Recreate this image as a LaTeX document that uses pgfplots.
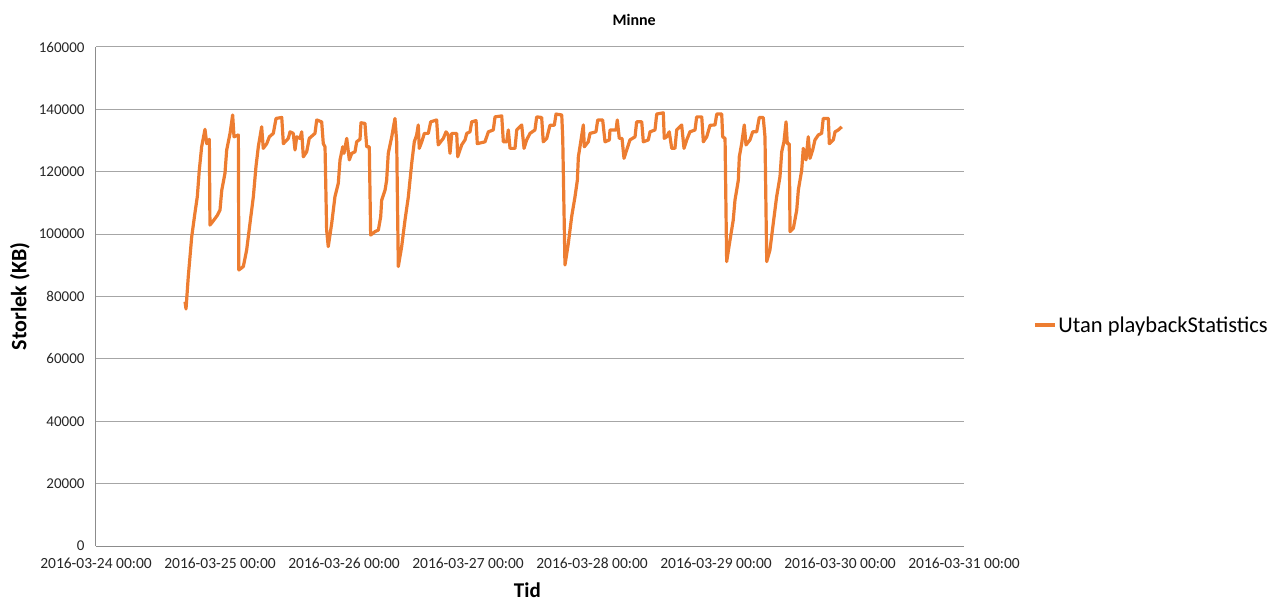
\documentclass[border=0pt]{standalone}
\usepackage{fontspec}
\setmainfont{Carlito}
\usepackage{pgfplots}
\pgfplotsset{compat=1.18}
\definecolor{lineor}{HTML}{ED7D31}
\definecolor{gridg}{HTML}{A6A6A6}
\definecolor{axg}{HTML}{8C8C8C}
\begin{document}
\begin{tikzpicture}[x=1pt,y=1pt]
\useasboundingbox (-96,-54) rectangle (1188,546);
\begin{axis}[at={(0,0)},anchor=south west,scale only axis,
  width=868pt,height=499pt,
  xmin=0,xmax=7,ymin=0,ymax=160000,
  axis lines*=left,
  axis line style={axg,line width=1pt},
  xtick={0,1,2,3,4,5,6,7},
  xticklabels={2016-03-24 00:00,2016-03-25 00:00,2016-03-26 00:00,2016-03-27 00:00,2016-03-28 00:00,2016-03-29 00:00,2016-03-30 00:00,2016-03-31 00:00},
  ytick={0,20000,40000,60000,80000,100000,120000,140000,160000},
  scaled y ticks=false,
  /pgf/number format/assume math mode=true,
  /pgf/number format/fixed,
  /pgf/number format/1000 sep={},
  major tick length=0pt,
  ymajorgrids,
  grid style={gridg,line width=1pt},
  tick label style={text=black!85},
  yticklabel style={font=\fontsize{15}{17}\selectfont,xshift=-8pt},
  xticklabel style={font=\fontsize{15.5}{17}\selectfont,yshift=-8pt},
  title={Minne},
  title style={font=\bfseries\fontsize{16}{18}\selectfont,at={(axis description cs:0.62,1)},anchor=center,yshift=21pt},
  ylabel={Storlek (KB)},
  ylabel style={font=\bfseries\fontsize{22}{24}\selectfont,at={(axis description cs:0,0.5)},anchor=center,yshift=76pt},
  xlabel={Tid},
  xlabel style={font=\bfseries\fontsize{21}{23}\selectfont,at={(axis description cs:0.497,0)},anchor=center,yshift=-44pt},
  legend style={at={(axis description cs:1.0795,0.4429)},anchor=west,draw=none,fill=none,font=\fontsize{22.5}{25}\selectfont,inner sep=0pt},
  legend image code/.code={\draw[#1] (0pt,0pt) -- (20pt,0pt);},
  clip=false,
]
\addplot[lineor,line width=3.2pt,line join=round] coordinates {
(0.718,78300) (0.726,76000) (0.744,86300) (0.772,99200) (0.798,106800) (0.817,112000)
(0.833,120500) (0.852,128000) (0.879,133600) (0.893,129000) (0.914,130400) (0.919,102900)
(0.941,104000) (0.960,105000) (0.978,106000) (1.000,107700) (1.014,114000) (1.040,119500)
(1.054,127000) (1.081,132300) (1.102,138200) (1.113,131200) (1.148,131800) (1.152,88500)
(1.188,89600) (1.215,94900) (1.242,103500) (1.269,112000) (1.290,121600) (1.309,128000)
(1.336,134400) (1.349,127500) (1.377,129000) (1.398,131200) (1.430,132300) (1.452,137100)
(1.498,137400) (1.511,129000) (1.551,130700) (1.565,132800) (1.591,132300) (1.605,127000)
(1.619,131200) (1.645,130700) (1.659,132800) (1.672,124800) (1.699,126400) (1.720,130700)
(1.766,132300) (1.780,136600) (1.820,136000) (1.833,129000) (1.847,128000) (1.860,101300)
(1.873,96000) (1.901,103500) (1.927,112000) (1.954,116300) (1.968,123800) (1.990,128000)
(2.000,125900) (2.022,130700) (2.043,123800) (2.062,125900) (2.089,126400) (2.102,129600)
(2.129,130400) (2.137,135700) (2.169,135500) (2.183,128000) (2.204,128000) (2.215,99700)
(2.250,100800) (2.277,101300) (2.296,105600) (2.304,110900) (2.331,114100) (2.344,117300)
(2.357,125900) (2.385,131200) (2.411,137100) (2.425,129600) (2.438,89600) (2.465,96000)
(2.492,104500) (2.519,112000) (2.546,122700) (2.567,129600) (2.586,131800) (2.599,135000)
(2.607,127500) (2.627,129600) (2.648,132300) (2.680,132300) (2.699,136000) (2.747,136600)
(2.760,128600) (2.801,130700) (2.823,132800) (2.841,131800) (2.855,125900) (2.869,132300)
(2.909,132300) (2.917,124800) (2.949,128600) (2.976,130200) (2.990,132300) (3.016,132800)
(3.030,136000) (3.065,136400) (3.075,129000) (3.137,129600) (3.164,132800) (3.204,133400)
(3.218,137600) (3.272,137900) (3.285,129600) (3.312,129600) (3.325,133400) (3.339,127500)
(3.379,127500) (3.393,133400) (3.433,135000) (3.452,127500) (3.473,130200) (3.500,132300)
(3.540,133400) (3.554,137600) (3.594,137400) (3.607,129600) (3.635,130700) (3.661,134900)
(3.696,134900) (3.710,138500) (3.756,138200) (3.764,130700) (3.782,90100) (3.809,97000)
(3.836,105600) (3.863,112000) (3.882,117300) (3.890,124800) (3.903,128000) (3.930,135000)
(3.938,128000) (3.970,129600) (3.984,132300) (4.032,132800) (4.046,136600) (4.086,136600)
(4.105,129600) (4.140,130200) (4.145,133400) (4.194,133400) (4.204,136600) (4.220,130700)
(4.242,130700) (4.258,124300) (4.280,127000) (4.306,130200) (4.347,131200) (4.360,136000)
(4.401,136000) (4.414,129600) (4.454,130200) (4.468,132800) (4.508,133400) (4.522,138500)
(4.575,138900) (4.583,130700) (4.602,131200) (4.623,132800) (4.643,127500) (4.669,127500)
(4.683,133400) (4.723,135000) (4.742,127500) (4.764,130200) (4.790,132800) (4.831,133400)
(4.844,137600) (4.885,137600) (4.898,129600) (4.925,131200) (4.952,134900) (4.992,135000)
(5.006,138500) (5.046,138500) (5.054,131200) (5.073,130700) (5.086,91200) (5.113,98100)
(5.139,104500) (5.153,110900) (5.180,117300) (5.188,124800) (5.207,129000) (5.228,135000)
(5.242,128600) (5.274,130200) (5.296,132800) (5.328,132800) (5.349,137400) (5.381,137400)
(5.395,131200) (5.409,91200) (5.435,94900) (5.462,103500) (5.489,112000) (5.516,118400)
(5.530,126400) (5.548,129600) (5.565,136000) (5.575,129000) (5.591,129000) (5.597,100800)
(5.624,101900) (5.651,107700) (5.664,114100) (5.691,120500) (5.704,127500) (5.726,123800)
(5.744,131200) (5.758,124300) (5.780,127000) (5.798,130200) (5.825,131800) (5.852,132300)
(5.865,137100) (5.906,137100) (5.914,129000) (5.946,130200) (5.960,132800) (5.986,133400)
(6.014,134400)
};
\addlegendentry{Utan playbackStatistics}
\end{axis}
\end{tikzpicture}
\end{document}
